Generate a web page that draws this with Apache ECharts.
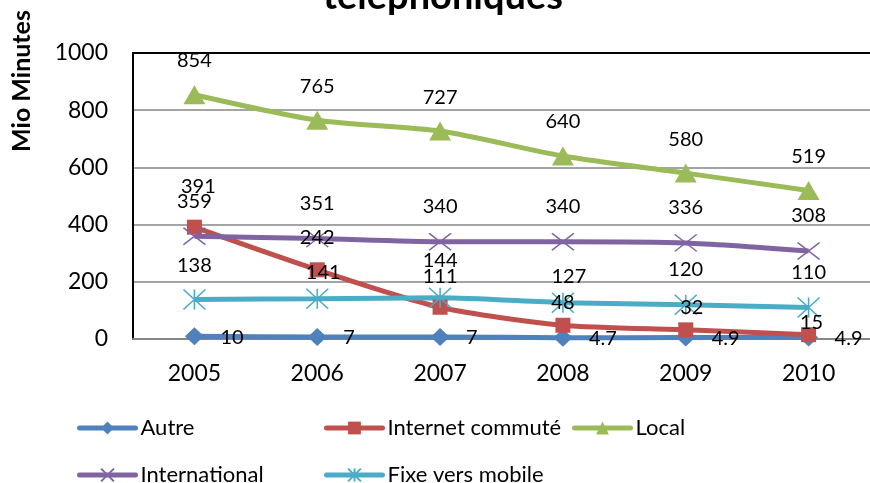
<!DOCTYPE html>
<html>
<head>
<meta charset="utf-8">
<title>Minutes téléphoniques</title>
<script src="https://cdn.jsdelivr.net/npm/echarts@6/dist/echarts.min.js"></script>
<style>
  html, body { margin: 0; padding: 0; background: #fff; }
  #chart { width: 870px; height: 483px; }
</style>
</head>
<body>
<div id="chart"></div>
<script>
// données (Mio minutes)
const years = ['2005', '2006', '2007', '2008', '2009', '2010']
const autre = [10, 7, 7, 4.7, 4.9, 4.9]
const internetCommute = [391, 242, 111, 48, 32, 15]
const local = [854, 765, 727, 640, 580, 519]
const international = [359, 351, 340, 340, 336, 308]
const fixeMobile = [138, 141, 144, 127, 120, 110]
const yTicks = { min: 0, max: 1000, interval: 200 }

// décalage des étiquettes au-dessus des points (px)
const liftInternet = [41, 32, 31, 23, 22, 12]
const shiftInternet = [4, 0, 0, 0, 6, 3]
const liftFixe = [34, 26, 37, 26, 35, 35]
const shiftFixe = [0, 6, 0, 6, 0, 0]

const FONT = 'Lato'

const withLabels = (values, lift, shift) =>
  values.map((v, i) => ({
    value: v,
    label: { offset: [shift ? shift[i] : 0, -(typeof lift === 'number' ? lift : lift[i])] }
  }))

const baseSeries = (name, color, data, symbol, symbolSize, extraItem) => ({
  name,
  type: 'line',
  smooth: 0.25,
  data,
  symbol,
  symbolSize,
  lineStyle: { color, width: 5 },
  itemStyle: Object.assign({ color }, extraItem || {}),
  label: {
    show: true,
    position: 'inside',
    color: '#000',
    fontFamily: FONT,
    fontSize: 20
  },
  emphasis: { disabled: true }
})

const chart = echarts.init(document.getElementById('chart'))

const legendBase = {
  orient: 'horizontal',
  padding: 0,
  itemWidth: 56,
  itemHeight: 16,
  itemGap: 6,
  lineStyle: { width: 5, cap: 'round' },
  textStyle: { fontFamily: FONT, fontSize: 22, color: '#000' }
}

const option = {
  animation: false,
  graphic: [
    {
      type: 'text',
      x: 443,
      y: 16,
      style: {
        text: 'téléphoniques',
        font: 'bold 38px Lato',
        fill: '#000',
        textAlign: 'center',
        textVerticalAlign: 'bottom'
      }
    },
    {
      type: 'text',
      x: 22,
      y: 81,
      rotation: Math.PI / 2,
      style: {
        text: 'Mio Minutes',
        font: 'bold 25px Lato',
        fill: '#000',
        textAlign: 'center',
        textVerticalAlign: 'middle'
      }
    }
  ],
  legend: [
    Object.assign({ left: 77, top: 417, data: ['Autre'] }, legendBase),
    Object.assign({ left: 324, top: 417, data: ['Internet commuté'] }, legendBase),
    Object.assign({ left: 572, top: 417, data: ['Local'] }, legendBase),
    Object.assign({ left: 77, top: 464, data: ['International'] }, legendBase),
    Object.assign({ left: 324, top: 464, data: ['Fixe vers mobile'] }, legendBase)
  ],
  grid: { left: 133, right: -3, top: 53, bottom: 144 },
  xAxis: [
    {
      type: 'category',
      data: years,
      boundaryGap: true,
      axisLine: { lineStyle: { color: '#868686', width: 2 } },
      axisTick: { show: false },
      axisLabel: { color: '#000', fontFamily: FONT, fontSize: 23, margin: 23 }
    },
    {
      type: 'category',
      position: 'top',
      data: years,
      axisLine: { lineStyle: { color: '#000', width: 2 } },
      axisTick: { show: false },
      axisLabel: { show: false }
    }
  ],
  yAxis: {
    type: 'value',
    min: yTicks.min,
    max: yTicks.max,
    interval: yTicks.interval,
    axisLine: { show: true, lineStyle: { color: '#000', width: 2 } },
    axisTick: { show: false },
    splitLine: { lineStyle: { color: '#868686', width: 1.5 } },
    axisLabel: {
      color: '#000', fontFamily: FONT, fontSize: 23, margin: 25,
      formatter: v => String(v)
    }
  },
  series: [
    (() => {
      const s = baseSeries('Autre', '#4F81BD', autre.map(v => ({ value: v })), 'diamond', [19, 18])
      s.label.align = 'left'
      s.label.offset = [26, 1]
      return s
    })(),
    baseSeries('Internet commuté', '#C0504D',
      withLabels(internetCommute, liftInternet, shiftInternet), 'rect', 15),
    baseSeries('Local', '#9BBB59', withLabels(local, 34), 'triangle', [22, 19]),
    baseSeries('International', '#8064A2', withLabels(international, 35),
      'path://M0,0L22,17M22,0L0,17', [22, 17],
      { borderColor: '#8064A2', borderWidth: 1.5 }),
    baseSeries('Fixe vers mobile', '#4BACC6', withLabels(fixeMobile, liftFixe, shiftFixe),
      'path://M0,0L20,20M20,0L0,20M10,0L10,20', [22, 20],
      { borderColor: '#4BACC6', borderWidth: 1.5 })
  ]
}

chart.setOption(option)
</script>
</body>
</html>
